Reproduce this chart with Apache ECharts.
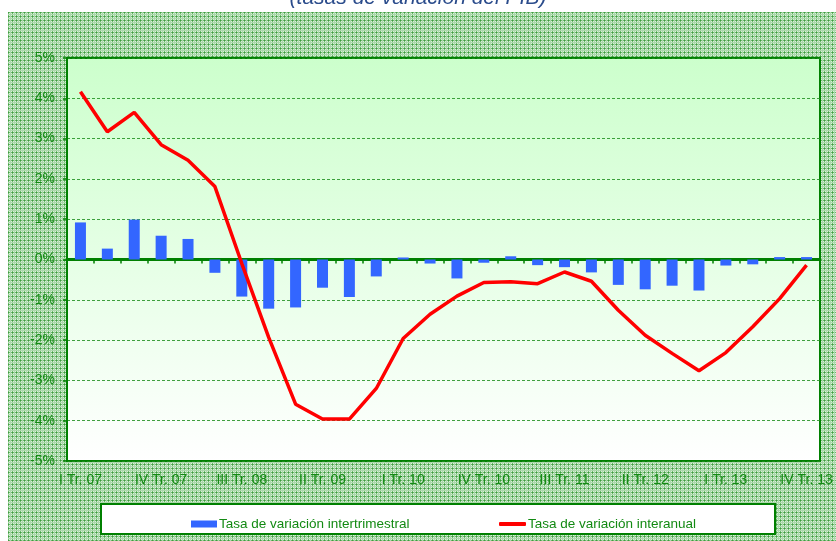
<!DOCTYPE html>
<html>
<head>
<meta charset="utf-8">
<script src="https://cdn.jsdelivr.net/npm/echarts@6/dist/echarts.min.js"></script>
<style>
html,body{margin:0;padding:0;background:#ffffff;}
#chart{width:836px;height:541px;}
</style>
</head>
<body>
<div id="chart"></div>
<script>
// ---- data ----
var categories = [
  'I Tr. 07','II Tr. 07','III Tr. 07','IV Tr. 07',
  'I Tr. 08','II Tr. 08','III Tr. 08','IV Tr. 08',
  'I Tr. 09','II Tr. 09','III Tr. 09','IV Tr. 09',
  'I Tr. 10','II Tr. 10','III Tr. 10','IV Tr. 10',
  'I Tr. 11','II Tr. 11','III Tr. 11','IV Tr. 11',
  'I Tr. 12','II Tr. 12','III Tr. 12','IV Tr. 12',
  'I Tr. 13','II Tr. 13','III Tr. 13','IV Tr. 13'
];
var intertrimestral = [
  0.92, 0.27, 0.99, 0.59,
  0.51, -0.33, -0.92, -1.22,
  -1.19, -0.70, -0.93, -0.42,
  0.05, -0.10, -0.47, -0.08,
  0.08, -0.14, -0.19, -0.32,
  -0.63, -0.74, -0.65, -0.77,
  -0.15, -0.12, 0.06, 0.06
];
var interanual = [
  4.16, 3.17, 3.65, 2.85,
  2.46, 1.81, -0.10, -1.93,
  -3.59, -3.96, -3.96, -3.20,
  -1.96, -1.36, -0.91, -0.57,
  -0.55, -0.60, -0.31, -0.54,
  -1.26, -1.88, -2.33, -2.76,
  -2.31, -1.67, -0.97, -0.14
];
var seriesNames = ['Tasa de variación intertrimestral', 'Tasa de variación interanual'];
var titleText = '(tasas de variación del PIB)';
var yMin = -5, yMax = 5, yStep = 1;

// ---- styling helpers ----
var GREEN = '#008000';
var TXT = '#138a13';
var FONT = '"Liberation Sans", Arial, sans-serif';

var pat = document.createElement('canvas');
pat.width = 4; pat.height = 4;
var pc = pat.getContext('2d');
pc.fillStyle = '#d8f0d8'; pc.fillRect(0,0,4,4);
pc.fillStyle = '#6cb86c'; pc.fillRect(0,0,1,4); pc.fillRect(0,0,4,1);
pc.fillStyle = '#3f9a3f'; pc.fillRect(0,0,1,1);
pc.fillStyle = '#acd8ac'; pc.fillRect(2,0,1,4); pc.fillRect(0,2,4,1);

var chart = echarts.init(document.getElementById('chart'), null, {renderer:'canvas'});
chart.setOption({
  animation: false,
  backgroundColor: '#ffffff',
  graphic: [
    { type:'rect', z:-10, silent:true,
      shape:{x:8, y:12, width:828, height:529},
      style:{fill:{image:pat, repeat:'repeat'}} },
    { type:'rect', z:-5, silent:true,
      shape:{x:101, y:504, width:674, height:30},
      style:{fill:'#ffffff', stroke:GREEN, lineWidth:2} },
    { type:'text', z:5, silent:true,
      style:{ text:titleText, x:418, y:9, textAlign:'center', textVerticalAlign:'bottom',
              font:'italic 21px ' + FONT, fill:'#2b4c8c' } }
  ],
  grid: {
    left: 67, right: 16, top: 58, bottom: 80,
    show: true,
    borderColor: GREEN, borderWidth: 2,
    backgroundColor: new echarts.graphic.LinearGradient(0,0,0,1,[
      {offset:0, color:'#ccffcc'},
      {offset:1, color:'#ffffff'}
    ])
  },
  legend: [
    { data:[{name:seriesNames[0], icon:'rect'}], left:186, top:512, itemWidth:26, itemHeight:7, itemGap:0,
      textStyle:{color:TXT, fontSize:13.5, fontFamily:FONT, padding:[0,0,0,-3]} },
    { data:[{name:seriesNames[1], icon:'roundRect'}], left:494, top:512, itemWidth:27, itemHeight:4, itemGap:0,
      textStyle:{color:TXT, fontSize:13.5, fontFamily:FONT, padding:[0,0,0,-3]} }
  ],
  xAxis: [
    { type:'category', data:categories, boundaryGap:true, position:'bottom',
      axisLine:{show:true, onZero:true, lineStyle:{color:GREEN, width:3}},
      axisTick:{show:true, interval:0, length:4, inside:false, lineStyle:{color:GREEN, width:1.5}},
      axisLabel:{show:false}, splitLine:{show:false} },
    { type:'category', data:categories, boundaryGap:true, position:'bottom',
      axisLine:{show:false, onZero:false}, axisTick:{show:false},
      axisLabel:{show:true, interval:2, margin:12, color:TXT, fontSize:14, fontFamily:FONT},
      splitLine:{show:false} }
  ],
  yAxis: {
    type:'value', min:yMin, max:yMax, interval:yStep,
    axisLine:{show:true, lineStyle:{color:GREEN, width:2}},
    axisTick:{show:true, length:4, lineStyle:{color:GREEN, width:1.5}},
    axisLabel:{formatter:'{value}%', color:TXT, fontSize:14, fontFamily:FONT, margin:12},
    splitLine:{show:true, lineStyle:{color:'#1f8f1f', width:1, type:[3,2], opacity:0.85}}
  },
  series: [
    { name:seriesNames[0], type:'bar', xAxisIndex:0, data:intertrimestral,
      barWidth:11, itemStyle:{color:'#3366ff'}, z:3 },
    { name:seriesNames[1], type:'line', xAxisIndex:0, data:interanual,
      symbol:'none', smooth:false, lineStyle:{color:'#ff0000', width:3.5}, itemStyle:{color:'#ff0000'}, z:4 }
  ]
});
</script>
</body>
</html>
